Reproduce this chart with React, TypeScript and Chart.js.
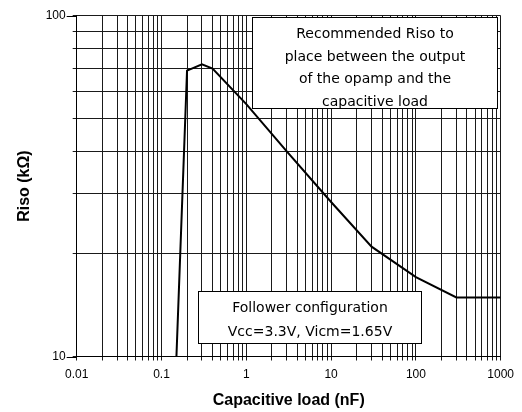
import { useEffect, useRef } from 'react';
import { Chart, registerables } from 'chart.js';

Chart.register(...registerables);

// ---- data ----
const capacitanceNF = [0.15, 0.2, 0.3, 0.4, 1, 3, 10, 30, 100, 300, 1000];
const risoKOhm = [10, 69, 72, 70, 55, 40, 28.4, 21, 17.1, 14.9, 14.9];

const xTickLabels = ['0.01', '0.1', '1', '10', '100', '1000'];
const yTickLabels = ['10', '100'];
const xDecades = [0.01, 0.1, 1, 10, 100];
const yDecades = [10];

const noteTopLines = [
  'Recommended Riso to',
  'place between the output',
  'of the opamp and the',
  'capacitive load',
];
const noteBottomLines = ['Follower configuration', 'Vcc=3.3V, Vicm=1.65V'];

const xTitle = 'Capacitive load (nF)';
const yTitle = 'Riso (kΩ)';

function gridValues(decades: number[]): number[] {
  const out: number[] = [];
  decades.forEach((d) => {
    for (let k = 1; k <= 9; k++) out.push(Number((k * d).toPrecision(6)));
  });
  out.push(Number((decades[decades.length - 1] * 10).toPrecision(6)));
  return out;
}

const xLabelValues = xTickLabels.map(Number);
const yLabelValues = yTickLabels.map(Number);

const notesPlugin = {
  id: 'notes',
  afterDatasetsDraw(chart: any) {
    const { ctx, chartArea: a } = chart;
    const w = a.right - a.left;
    const h = a.bottom - a.top;
    const drawBox = (
      fx0: number,
      fx1: number,
      fy0: number,
      fy1: number,
      lines: string[],
      first: number,
      step: number
    ) => {
      const x0 = Math.round(a.left + fx0 * w) + 0.5;
      const x1 = Math.round(a.left + fx1 * w) + 0.5;
      const y0 = Math.round(a.top + fy0 * h) + 0.5;
      const y1 = Math.round(a.top + fy1 * h) + 0.5;
      ctx.save();
      ctx.fillStyle = '#ffffff';
      ctx.fillRect(x0, y0, x1 - x0, y1 - y0);
      ctx.strokeStyle = '#000000';
      ctx.lineWidth = 1;
      ctx.strokeRect(x0, y0, x1 - x0, y1 - y0);
      ctx.fillStyle = '#000000';
      ctx.font = '14px "DejaVu Sans"';
      ctx.textAlign = 'center';
      ctx.textBaseline = 'middle';
      lines.forEach((t, i) => ctx.fillText(t, (x0 + x1) / 2, y0 + first + i * step));
      ctx.restore();
    };
    drawBox(0.414, 0.992, 0.003, 0.272, noteTopLines, 17, 22.6);
    drawBox(0.287, 0.811, 0.809, 0.961, noteBottomLines, 17, 23.4);
  },
  afterDraw(chart: any) {
    // longer tick marks at the labelled y values
    const { ctx, scales } = chart;
    const y = scales.y;
    ctx.save();
    ctx.strokeStyle = '#000000';
    ctx.lineWidth = 1;
    yLabelValues.forEach((v) => {
      const py = Math.round(y.getPixelForValue(v)) + 0.5;
      ctx.beginPath();
      ctx.moveTo(y.right - 10, py);
      ctx.lineTo(y.right, py);
      ctx.stroke();
    });
    ctx.restore();
  },
};

export default function App() {
  const canvasRef = useRef<HTMLCanvasElement | null>(null);

  useEffect(() => {
    if (!canvasRef.current) return;
    const chart = new Chart(canvasRef.current, {
      type: 'line',
      data: {
        datasets: [
          {
            data: capacitanceNF.map((x, i) => ({ x, y: risoKOhm[i] })),
            borderColor: '#000000',
            borderWidth: 2,
            pointRadius: 0,
            tension: 0,
            fill: false,
          },
        ],
      },
      options: {
        animation: false,
        responsive: true,
        maintainAspectRatio: false,
        layout: { padding: { top: 15.7, right: 21.3, left: 0, bottom: 0 } },
        plugins: { legend: { display: false }, tooltip: { enabled: false } },
        scales: {
          x: {
            type: 'logarithmic',
            min: 0.01,
            max: 1000,
            afterBuildTicks: (s: any) => {
              s.ticks = gridValues(xDecades).map((value) => ({ value }));
            },
            afterFit: (s: any) => {
              s.height = 55.5;
            },
            grid: { color: '#1a1a1a', lineWidth: 1, tickLength: 4, drawTicks: true },
            border: { color: '#000000', width: 1 },
            ticks: {
              autoSkip: false,
              maxRotation: 0,
              padding: 7,
              color: '#000000',
              font: { family: '"Liberation Sans", Arial, sans-serif', size: 12 },
              callback: (v: any) => {
                const i = xLabelValues.findIndex((n) => Math.abs(n - Number(v)) < 1e-9 * Math.max(1, n));
                return i >= 0 ? xTickLabels[i] : '';
              },
            },
            title: {
              display: true,
              text: xTitle,
              color: '#000000',
              font: { family: '"Liberation Sans", Arial, sans-serif', size: 16, weight: 'bold' },
              padding: { top: 0, bottom: 2 },
            },
          },
          y: {
            type: 'logarithmic',
            min: 10,
            max: 100,
            afterBuildTicks: (s: any) => {
              s.ticks = gridValues(yDecades).map((value) => ({ value }));
            },
            afterFit: (s: any) => {
              s.width = 76.7;
            },
            grid: { color: '#1a1a1a', lineWidth: 1, tickLength: 4, drawTicks: true },
            border: { color: '#000000', width: 1 },
            ticks: {
              autoSkip: false,
              padding: 7,
              color: '#000000',
              font: { family: '"Liberation Sans", Arial, sans-serif', size: 12 },
              callback: (v: any) => {
                const i = yLabelValues.findIndex((n) => Math.abs(n - Number(v)) < 1e-9 * n);
                return i >= 0 ? yTickLabels[i] : '';
              },
            },
            title: {
              display: true,
              text: yTitle,
              color: '#000000',
              font: { family: '"Liberation Sans", Arial, sans-serif', size: 16, weight: 'bold' },
              padding: { top: 15, bottom: 0 },
            },
          },
        },
      },
      plugins: [notesPlugin],
    } as any);
    return () => chart.destroy();
  }, []);

  return (
    <div style={{ position: 'fixed', left: 0, top: 0, width: 522, height: 412, background: '#fff' }}>
      <canvas ref={canvasRef} />
    </div>
  );
}
